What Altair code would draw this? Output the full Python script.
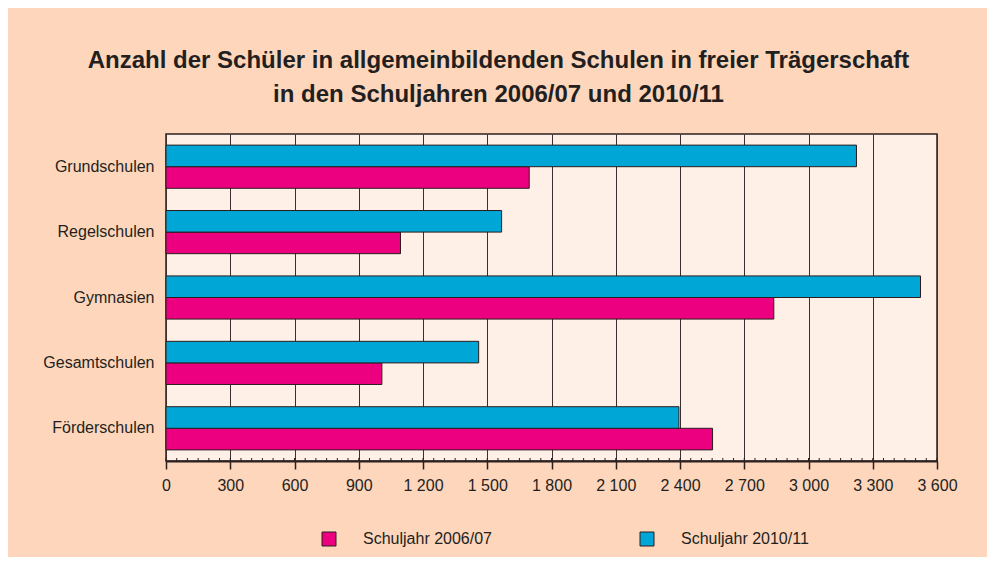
import altair as alt
import pandas as pd

categories = ["Grundschulen", "Regelschulen", "Gymnasien", "Gesamtschulen", "Förderschulen"]
series = ["Schuljahr 2006/07", "Schuljahr 2010/11"]
values_2006 = [1696, 1095, 2838, 1008, 2552]
values_2010 = [3224, 1567, 3523, 1460, 2395]
x_ticks = [0, 300, 600, 900, 1200, 1500, 1800, 2100, 2400, 2700, 3000, 3300, 3600]
minor_ticks = list(range(0, 3601, 50))

rows = []
for c, a, b in zip(categories, values_2006, values_2010):
    rows.append({"Schulart": c, "Jahr": series[0], "Anzahl": a})
    rows.append({"Schulart": c, "Jahr": series[1], "Anzahl": b})
df = pd.DataFrame(rows)
df_minor = pd.DataFrame({"v": minor_ticks})

FONT = "Liberation Sans"
DARK = "#231f20"
PINK = "#ec0080"
BLUE = "#00a6d6"
W, H = 771, 327

xscale = alt.Scale(domain=[0, 3600], nice=False, zero=True)

bars = alt.Chart(df).mark_bar(stroke="#2b1d1d", strokeWidth=1).encode(
    y=alt.Y("Schulart:N", sort=categories,
            scale=alt.Scale(paddingInner=0.34, paddingOuter=0.17),
            axis=alt.Axis(title=None, ticks=False, domain=False, labelPadding=12,
                          labelFont=FONT, labelFontSize=16, labelColor=DARK)),
    x=alt.X("Anzahl:Q", scale=xscale,
            axis=alt.Axis(title=None, values=x_ticks, grid=True, gridColor="#3a2e2e",
                          gridWidth=1, gridOpacity=1, domain=True, domainColor="#2b2020",
                          domainWidth=2, tickColor="#2b2020", tickSize=8, tickWidth=1.5,
                          labelPadding=8, labelFlush=False,
                          labelFont=FONT, labelFontSize=16, labelColor=DARK,
                          labelExpr="replace(format(datum.value, ','), ',', ' ')")),
    yOffset=alt.YOffset("Jahr:N", scale=alt.Scale(domain=[series[1], series[0]])),
    color=alt.Color("Jahr:N", scale=alt.Scale(domain=series, range=[PINK, BLUE]),
                    legend=alt.Legend(title=None, orient="none", direction="horizontal",
                                      legendX=155, legendY=397, symbolType="square",
                                      symbolSize=196, symbolStrokeColor="#2b1d1d",
                                      symbolStrokeWidth=1, symbolOpacity=1,
                                      labelOffset=26, columnPadding=146,
                                      labelFont=FONT, labelFontSize=16, labelColor=DARK)),
)

minor = alt.Chart(df_minor).mark_rule(color="#2b2020", strokeWidth=1).encode(
    x=alt.X("v:Q", scale=xscale),
    y=alt.value(H - 3),
    y2=alt.value(H),
)

chart = alt.layer(bars, minor).properties(
    width=W,
    height=H,
    autosize=alt.AutoSizeParams(type="none"),
    padding={"left": 158, "top": 126, "right": 50, "bottom": 96},
    background="#fed6bc",
    title=alt.Title(
        text=["Anzahl der Schüler in allgemeinbildenden Schulen in freier Trägerschaft",
              "in den Schuljahren 2006/07 und 2010/11"],
        font=FONT, fontSize=24, fontWeight="bold", color=DARK,
        anchor="middle", dx=-53, offset=3, lineHeight=34, baseline="bottom",
    ),
).configure_view(fill="#fef0e6", stroke="#2b2020", strokeWidth=1.5)

chart.save("out.html", embed_options={"renderer": "svg", "actions": False})
